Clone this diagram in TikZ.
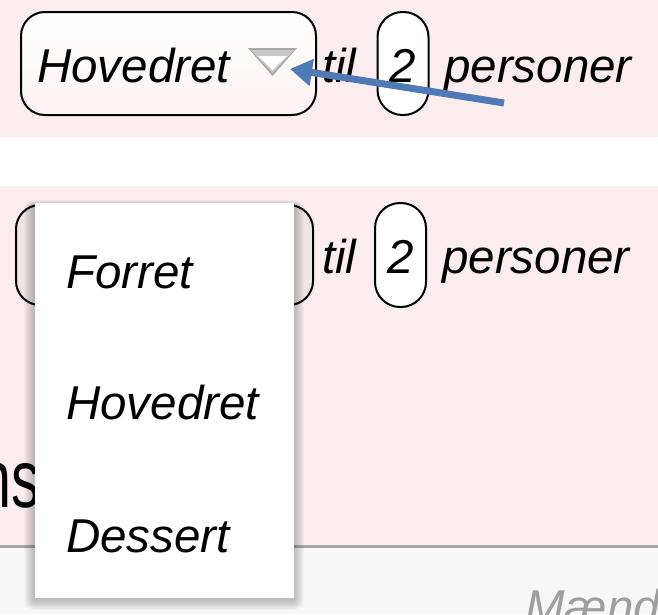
\documentclass[tikz,border=0pt]{standalone}
\usepackage{fontspec}
\setmainfont{Liberation Sans}
\usetikzlibrary{arrows.meta}
\definecolor{pinkbg}{HTML}{FBEDED}
\definecolor{arrowblue}{HTML}{4E7AB7}
\definecolor{linegrey}{HTML}{A8A8A8}
\definecolor{box2fill}{HTML}{EEE6E6}
\tikzset{
  big/.style={font=\fontsize{47.5}{50}\selectfont\itshape, inner sep=0pt, anchor=base west, text=black},
  selbox/.style={draw=black, line width=2pt, rounded corners=24pt, inner sep=0pt},
  pill/.style={draw=black, line width=2pt, rounded corners=25pt, fill=white, inner sep=0pt, minimum width=51pt},
  menuitem/.style={big},
}
\begin{document}
\begin{tikzpicture}[x=1pt,y=-1pt]
\useasboundingbox (0,0) rectangle (658,614);
% backgrounds
\fill[white] (0,0) rectangle (658,614);
\fill[pinkbg] (0,0) rectangle (658,137);
\fill[pinkbg] (0,186) rectangle (658,545);
\fill[white!97!black] (0,547) rectangle (658,614);
\draw[linegrey, line width=2.5pt] (0,546.5) -- (658,546.5);

% ---------- top row ----------
\node[selbox, top color=white, bottom color=pinkbg!70, minimum width=295pt, minimum height=103pt] (box1) at (168.5,63.5) {};
\node[big] (hov1) at (37,82) {Hovedret};
% dropdown triangle
\coordinate (triA) at (248,48);
\coordinate (triB) at (297,48);
\coordinate (triC) at (272.5,76);
\fill[black!35] (triA) -- (triB) -- (triC) -- cycle;
\fill[black!22] (251,50) -- (294,50) -- (272.5,73) -- cycle;
\fill[white] (258,56) -- (287,56) -- (272.5,70) -- cycle;
\node[big] (til1) at (322,82) {til};
\node[pill, minimum height=103pt] (pill1) at (403,63.5) {};
\node[big, anchor=base] (two1) at (403,82) {2};
\node[big] (pers1) at (444,82) {personer};
% arrow
\coordinate (arrtail) at (504,103);
\coordinate (arrtip) at (290,69);
\draw[arrowblue, line width=7pt, -{Triangle[length=22pt,width=26pt]}] (arrtail) -- (arrtip);

% ---------- second row ----------
\node[font=\fontsize{82}{84}\selectfont, inner sep=0pt, anchor=base east, xscale=0.7] (ns) at (40,507) {ns};
\node[selbox, fill=box2fill, minimum width=297pt, minimum height=100pt] (box2) at (164.5,255) {};
\node[big] (til2) at (322,273.5) {til};
\node[pill, minimum height=104pt] (pill2) at (400.5,255) {};
\node[big, anchor=base] (two2) at (400.5,273.5) {2};
\node[big] (pers2) at (442,273.5) {personer};
\node[big, text=black!38] (maend) at (525,623) {Mænd};

% menu shadow
\foreach \i in {1,...,10}{
  \fill[black, opacity=0.022, rounded corners=\i pt] (34-\i,203-0.5*\i+2) rectangle (294+\i,598+\i+2);
}
\node[fill=white, inner sep=0pt, minimum width=259pt, minimum height=395pt] (menu) at (164,400.5) {};
\node[menuitem] (forret) at (66,288) {Forret};
\node[menuitem] (hov2) at (66,419.5) {Hovedret};
\node[menuitem] (dessert) at (66,552) {Dessert};
\end{tikzpicture}
\end{document}
